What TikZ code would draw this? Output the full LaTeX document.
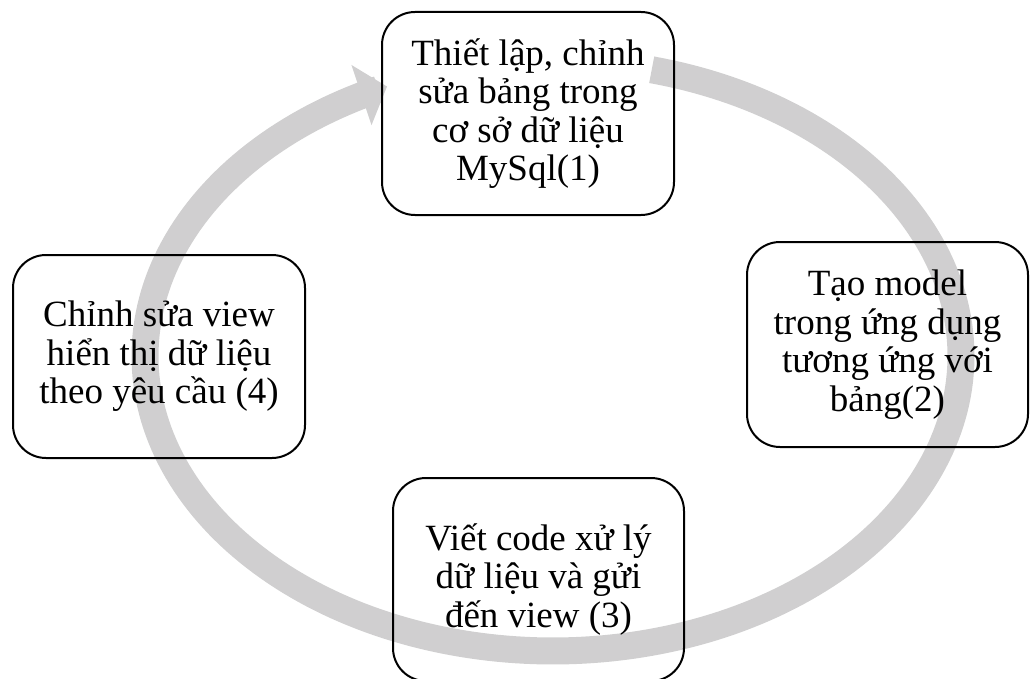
\documentclass[tikz,border=0pt]{standalone}
\usepackage{fontspec}
\setmainfont{Liberation Serif}
\usetikzlibrary{arrows.meta}
\definecolor{bandgray}{RGB}{208,207,208}
\begin{document}
\begin{tikzpicture}[x=1pt,y=-1pt,
  stepbox/.style={draw=black, line width=2pt, rounded corners=33pt, align=center, inner sep=0pt,
    font=\fontsize{37}{38.5}\selectfont},
  band/.style={draw=bandgray, line width=27pt}]
\useasboundingbox (0,0) rectangle (1030,679);
\draw[band, -{Triangle[width=62pt,length=27pt]}] plot[domain=-76:246, samples=240, variable=\t] ({553+408*cos(\t)},{356+295*sin(\t)});
\node[stepbox, minimum width=292pt, minimum height=203pt] (s1) at (528,113.5) {Thiết lập, chỉnh\\sửa bảng trong\\cơ sở dữ liệu\\MySql(1)};
\node[stepbox, minimum width=281pt, minimum height=205pt] (s2) at (887.5,344.5) {Tạo model\\trong ứng dụng\\tương ứng với\\bảng(2)};
\node[stepbox, minimum width=291pt, minimum height=203pt] (s3) at (538.5,579.5) {Viết code xử lý\\dữ liệu và gửi\\đến view (3)};
\node[stepbox, minimum width=292pt, minimum height=203pt] (s4) at (159,356.5) {Chỉnh sửa view\\hiển thị dữ liệu\\theo yêu cầu (4)};
\end{tikzpicture}
\end{document}
